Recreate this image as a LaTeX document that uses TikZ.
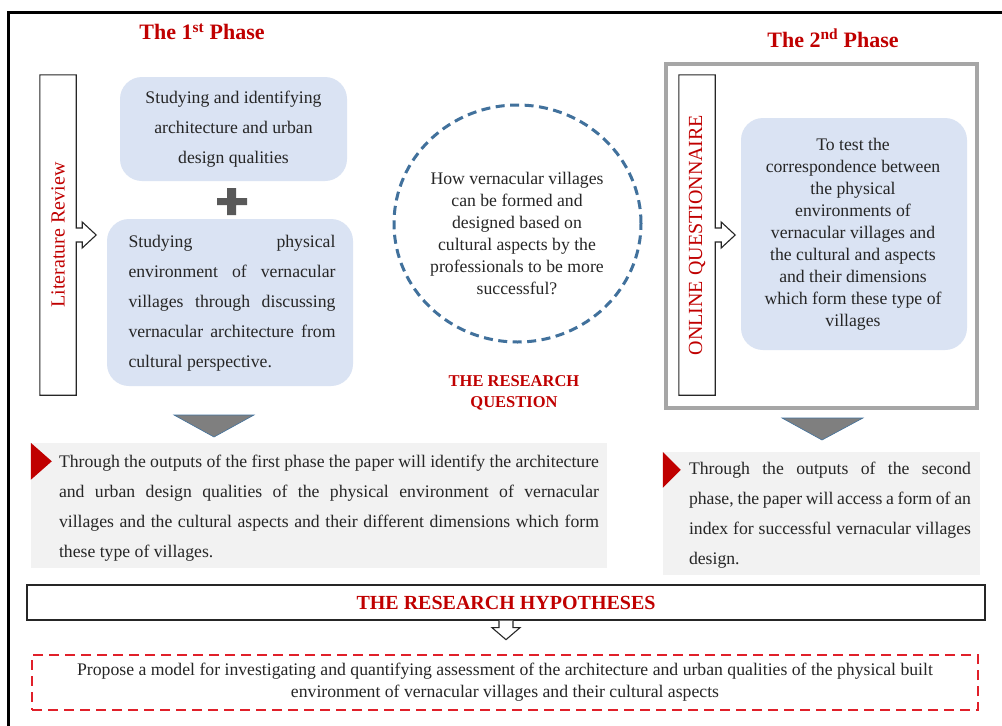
\documentclass[tikz,border=0pt]{standalone}
\usepackage{fontspec}
\setmainfont{Liberation Serif}
\usetikzlibrary{shapes.geometric,calc}

\definecolor{phasered}{HTML}{C00000}
\definecolor{boxblue}{HTML}{DAE3F3}
\definecolor{panelgray}{HTML}{F2F2F2}
\definecolor{textdark}{HTML}{262626}
\definecolor{ringblue}{HTML}{41719C}
\definecolor{framegray}{HTML}{A6A6A6}
\definecolor{trigray}{HTML}{7F7F7F}
\definecolor{plusgray}{HTML}{595959}
\definecolor{dashred}{HTML}{E0202A}

\tikzset{
  phasetitle/.style={text=phasered, font=\fontsize{22}{26}\selectfont\bfseries},
  bluebox/.style={fill=boxblue, rounded corners=22pt, inner sep=0pt},
  sidebar/.style={minimum width=36pt, minimum height=320pt, inner sep=0pt,
    text=phasered, font=\fontsize{20}{24}\selectfont},
  outline/.style={draw=textdark, line width=1.1pt, line join=miter},
  panel/.style={fill=panelgray, inner sep=0pt},
  downtri/.style={fill=trigray, draw=ringblue, line width=0.6pt},
  body/.style={text=textdark, font=\fontsize{17.7}{30}\selectfont, inner sep=0pt},
  tight/.style={text=textdark, font=\fontsize{17.7}{22}\selectfont, inner sep=0pt},
}

\begin{document}
\begin{tikzpicture}[x=1pt, y=-1pt]
  \clip (0,0) rectangle (1002,726);
  \fill[white] (0,0) rectangle (1002,726);
  % outer frame
  \draw[line width=3pt] (8,12) rectangle (1020,740);

  % first phase
  \node[phasetitle] (title1) at (202,32) {The 1\textsuperscript{st} Phase};
  \node[sidebar] (litrev) at (58,235) {\rotatebox{90}{Literature Review}};
  \draw[outline] (litrev.north east) -- ($(litrev.east)+(0,-7)$) -- ($(litrev.east)+(6,-7)$)
    -- ($(litrev.east)+(6,-13)$) -- ($(litrev.east)+(20,0)$) -- ($(litrev.east)+(6,13)$)
    -- ($(litrev.east)+(6,7)$) -- ($(litrev.east)+(0,7)$) -- (litrev.south east)
    -- (litrev.south west) -- (litrev.north west) -- cycle;
  \node[bluebox, minimum width=227pt, minimum height=104pt] (qualities) at (233.5,129) {};
  \node[body, align=center] at (qualities.center)
    {Studying and identifying\\architecture and urban\\design qualities};
  \fill[plusgray] (217,198) rectangle (247,205) (227,188) rectangle (236,215);
  \node[bluebox, minimum width=246pt, minimum height=167pt] (environs) at (230,302.5) {};
  \node[body, text width=207pt, align=justify] at ($(environs.center)+(2,1)$)
    {Studying physical\linebreak environment of vernacular\linebreak villages through discussing\linebreak vernacular architecture from\linebreak cultural perspective.};

  % research question
  \node[ellipse, draw=ringblue, line width=3pt, dash pattern=on 9pt off 5.5pt,
    minimum width=247pt, minimum height=237pt] (question) at (517.5,223.5) {};
  \node[tight, align=center] (qtext) at (517,233)
    {How vernacular villages\\can be formed and\\designed based on\\cultural aspects by the\\professionals to be more\\successful?};
  \node[text=phasered, font=\fontsize{16.5}{21}\selectfont\bfseries, align=center] (qlabel)
    at (514,393) {THE RESEARCH\\QUESTION};

  % second phase
  \node[phasetitle] (title2) at (833,38) {The 2\textsuperscript{nd} Phase};
  \node[draw=framegray, line width=3.5pt, minimum width=311pt, minimum height=344pt] (phase2)
    at (821.5,236) {};
  \node[sidebar] (onlineq) at (697,235) {\rotatebox{90}{ONLINE QUESTIONNAIRE}};
  \draw[outline] (onlineq.north east) -- ($(onlineq.east)+(0,-7)$) -- ($(onlineq.east)+(6,-7)$)
    -- ($(onlineq.east)+(6,-13)$) -- ($(onlineq.east)+(20,0)$) -- ($(onlineq.east)+(6,13)$)
    -- ($(onlineq.east)+(6,7)$) -- ($(onlineq.east)+(0,7)$) -- (onlineq.south east)
    -- (onlineq.south west) -- (onlineq.north west) -- cycle;
  \node[bluebox, minimum width=226pt, minimum height=232pt] (testbox) at (854,234) {};
  \node[tight, align=center] at ($(testbox.center)+(-1,0)$)
    {To test the\\correspondence between\\the physical\\environments of\\vernacular villages and\\the cultural and aspects\\and their dimensions\\which form these type of\\villages};

  % outputs
  \draw[downtri] (174,415) -- (254,415) -- (214,437) -- cycle;
  \draw[downtri] (782,418) -- (863,418) -- (822,440) -- cycle;
  \node[panel, minimum width=576pt, minimum height=125pt] (output1) at (319,505.5) {};
  \fill[phasered] (output1.north west) -- ++(21,18.5) -- ++(-21,18.5) -- cycle;
  \node[body, text width=540pt, align=justify] at (329,508)
    {Through the outputs of the first phase the paper will identify the architecture\linebreak and urban design qualities of the physical environment of vernacular\linebreak villages and the cultural aspects and their different dimensions which form\linebreak these type of villages.};
  \node[panel, minimum width=317pt, minimum height=123pt] (output2) at (821.5,513.5) {};
  \fill[phasered] (output2.north west) -- ++(18,18) -- ++(-18,18) -- cycle;
  \node[body, text width=282pt, align=justify] at (830,515)
    {Through the outputs of the second\linebreak phase, the paper will access a form of an\linebreak index for successful vernacular villages\linebreak design.};

  % hypotheses
  \node[draw=textdark, line width=1.3pt, minimum width=958pt, minimum height=35pt,
    text=phasered, font=\fontsize{20}{24}\selectfont\bfseries] (hypo) at (506,602.5)
    {THE RESEARCH HYPOTHESES};
  \filldraw[outline, fill=white] ($(hypo.south)+(-7,0)$) -- ++(0,7) -- ++(-7,0)
    -- ($(hypo.south)+(0,19)$) -- ($(hypo.south)+(14,7)$) -- ++(-7,0) -- ++(0,-7);
  \node[draw=dashred, line width=2pt, dash pattern=on 10pt off 6pt, minimum width=946pt,
    minimum height=55pt, text=textdark, font=\fontsize{17.7}{22}\selectfont, align=center]
    (proposal) at (505,682.5)
    {Propose a model for investigating and quantifying assessment of the architecture and urban qualities of the physical built\\environment of vernacular villages and their cultural aspects};
\end{tikzpicture}
\end{document}
